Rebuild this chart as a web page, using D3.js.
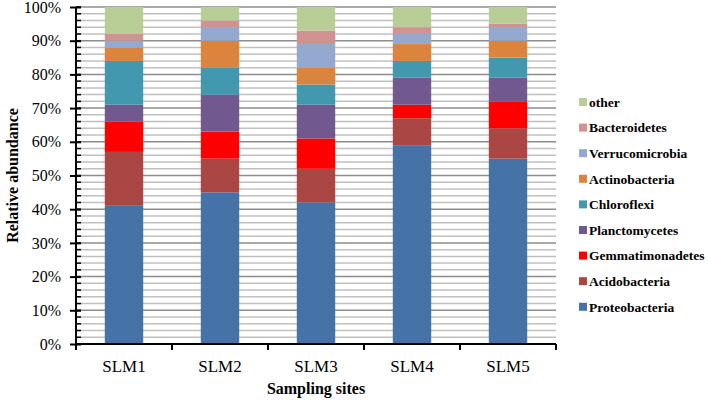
<!DOCTYPE html>
<html>
<head>
<meta charset="utf-8">
<script src="https://cdn.jsdelivr.net/npm/d3@7"></script>
<style>
  body { margin: 0; background: #fff; }
  svg text { font-family: "Liberation Serif", "Times New Roman", serif; fill: #000; }
</style>
</head>
<body>
<svg id="chart" width="708" height="400"></svg>
<script>
// sampling sites
var sites = ['SLM1', 'SLM2', 'SLM3', 'SLM4', 'SLM5'];

// phyla, bottom to top of each stack
var phyla = ['Proteobacteria', 'Acidobacteria', 'Gemmatimonadetes', 'Planctomycetes',
    'Chloroflexi', 'Actinobacteria', 'Verrucomicrobia', 'Bacteroidetes', 'other'];

// relative abundance (%) per site
var proteobacteria   = [41, 45, 42, 59, 55];
var acidobacteria    = [16, 10, 10,  8,  9];
var gemmatimonadetes = [ 9,  8,  9,  4,  8];
var planctomycetes   = [ 5, 11, 10,  8,  7];
var chloroflexi      = [13,  8,  6,  5,  6];
var actinobacteria   = [ 4,  8,  5,  5,  5];
var verrucomicrobia  = [ 2,  4,  7,  3,  4];
var bacteroidetes    = [ 2,  2,  4,  2,  1];
var other            = [ 8,  4,  7,  6,  5];

var yTicks = [0, 10, 20, 30, 40, 50, 60, 70, 80, 90, 100];

var colors = ['#4572a7', '#aa4643', '#ff0000', '#71588f', '#4198af',
    '#db843d', '#93a9cf', '#d19392', '#b9cd96'];

var seriesValues = [proteobacteria, acidobacteria, gemmatimonadetes, planctomycetes,
    chloroflexi, actinobacteria, verrucomicrobia, bacteroidetes, other];

// build rows for d3.stack
var rows = sites.map(function(s, i) {
    var row = {site: s};
    phyla.forEach(function(p, j) { row[p] = seriesValues[j][i]; });
    return row;
});

var svg = d3.select('#chart');

var plot = {l: 76, r: 556, t: 7, b: 344};

var x = d3.scaleBand()
    .domain(sites)
    .range([plot.l, plot.r])
    .paddingInner(0.6)
    .paddingOuter(0.3);

var y = d3.scaleLinear()
    .domain([0, 100])
    .range([plot.b, plot.t]);

var color = d3.scaleOrdinal().domain(phyla).range(colors);

// gridlines: minor every 2%, major every 10%
var minor = d3.range(2, 101, 2).filter(function(d) { return d % 10 !== 0; });
svg.append('g').selectAll('line')
    .data(minor)
    .enter().append('line')
    .attr('x1', plot.l).attr('x2', plot.r)
    .attr('y1', function(d) { return y(d); })
    .attr('y2', function(d) { return y(d); })
    .attr('stroke', '#c0c0c0')
    .attr('stroke-width', 1.5);

svg.append('g').selectAll('line')
    .data(yTicks.slice(1))
    .enter().append('line')
    .attr('x1', plot.l).attr('x2', plot.r)
    .attr('y1', function(d) { return y(d); })
    .attr('y2', function(d) { return y(d); })
    .attr('stroke', '#8c8c8c')
    .attr('stroke-width', 1.5);

// stacked bars
var stack = d3.stack().keys(phyla);
var layers = stack(rows);

svg.append('g').selectAll('g')
    .data(layers)
    .enter().append('g')
    .attr('fill', function(d) { return color(d.key); })
    .selectAll('rect')
    .data(function(d) { return d; })
    .enter().append('rect')
    .attr('x', function(d) { return x(d.data.site); })
    .attr('width', x.bandwidth())
    .attr('y', function(d) { return y(d[1]); })
    .attr('height', function(d) { return y(d[0]) - y(d[1]); });

// y axis: major ticks crossing the line, minor ticks inside
var yAxisG = svg.append('g');
yAxisG.append('g').selectAll('line')
    .data(d3.range(0, 101, 2))
    .enter().append('line')
    .attr('x1', plot.l)
    .attr('x2', plot.l + 5)
    .attr('y1', function(d) { return y(d); })
    .attr('y2', function(d) { return y(d); })
    .attr('stroke', '#000')
    .attr('stroke-width', 1.5);

yAxisG.append('g')
    .attr('transform', 'translate(' + plot.l + ',0)')
    .call(d3.axisLeft(y).tickValues(yTicks).tickSize(6).tickPadding(9)
        .tickFormat(function(d) { return d + '%'; }))
    .call(function(g) {
        g.attr('font-family', null);
        g.select('.domain').attr('stroke-width', 2).attr('d', 'M0,' + (plot.b + 1) + 'V' + plot.t);
        g.selectAll('.tick line').attr('stroke-width', 2).attr('x2', 5).attr('x1', -6);
        g.selectAll('.tick text').style('font-size', '16px');
    });

// x axis with ticks at band boundaries
var bounds = sites.map(function(s) { return x(s) - x.step() * x.paddingInner() / 2; });
bounds.push(plot.r);

var xAxisG = svg.append('g');
xAxisG.append('line')
    .attr('x1', plot.l - 1).attr('x2', plot.r)
    .attr('y1', plot.b).attr('y2', plot.b)
    .attr('stroke', '#000').attr('stroke-width', 2);

xAxisG.selectAll('.xtick')
    .data(bounds)
    .enter().append('line')
    .attr('class', 'xtick')
    .attr('x1', function(d) { return d; })
    .attr('x2', function(d) { return d; })
    .attr('y1', plot.b).attr('y2', plot.b + 6)
    .attr('stroke', '#000').attr('stroke-width', 2);

xAxisG.selectAll('.xlabel')
    .data(sites)
    .enter().append('text')
    .attr('class', 'xlabel')
    .attr('x', function(d) { return x(d) + x.bandwidth() / 2; })
    .attr('y', 372)
    .attr('text-anchor', 'middle')
    .style('font-size', '17px')
    .text(function(d) { return d; });

// axis titles
svg.append('text')
    .attr('x', (plot.l + plot.r) / 2)
    .attr('y', 394)
    .attr('text-anchor', 'middle')
    .style('font-size', '16px')
    .style('font-weight', 'bold')
    .text('Sampling sites');

svg.append('text')
    .attr('transform', 'translate(18,' + (plot.t + plot.b) / 2 + ') rotate(-90)')
    .attr('text-anchor', 'middle')
    .style('font-size', '16px')
    .style('font-weight', 'bold')
    .text('Relative abundance');

// legend, top entry is 'other'
var legendItems = phyla.slice().reverse();
var legend = svg.append('g')
    .attr('transform', 'translate(579,102)');

var item = legend.selectAll('g')
    .data(legendItems)
    .enter().append('g')
    .attr('transform', function(d, i) { return 'translate(0,' + i * 25.6 + ')'; });

item.append('rect')
    .attr('x', 0).attr('y', -4)
    .attr('width', 8).attr('height', 8)
    .attr('fill', function(d) { return color(d); });

item.append('text')
    .attr('x', 10)
    .attr('dy', '0.35em')
    .style('font-size', '13.5px')
    .style('font-weight', 'bold')
    .text(function(d) { return d; });
</script>
</body>
</html>
